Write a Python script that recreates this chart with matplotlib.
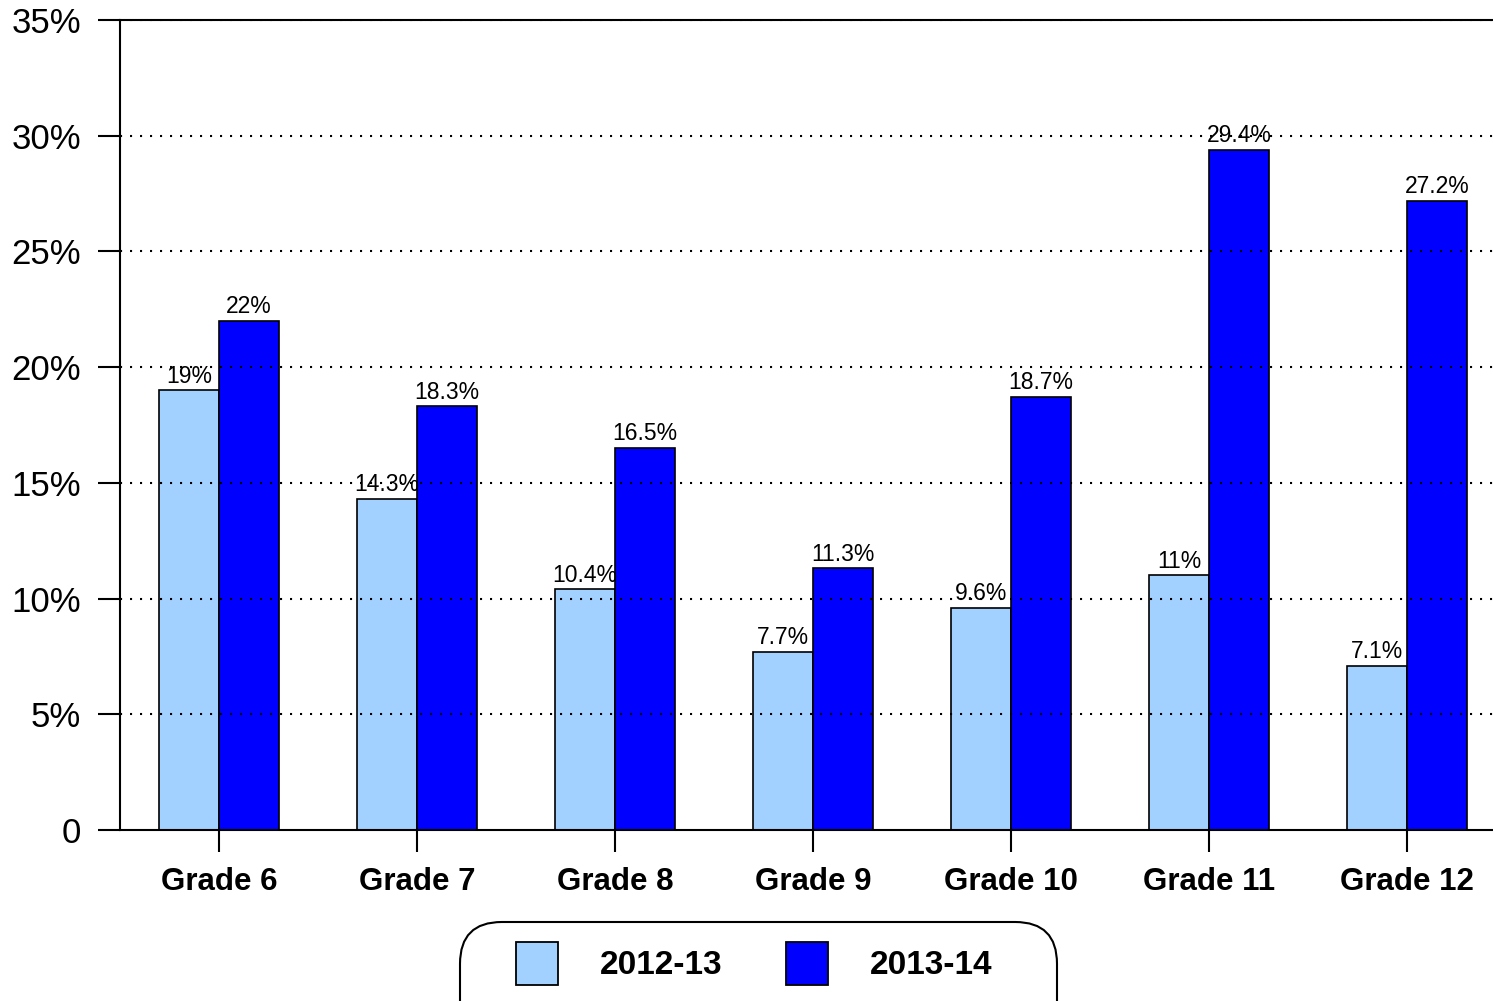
import numpy as np
import matplotlib.pyplot as plt
from matplotlib.patches import FancyBboxPatch, Rectangle

# -----------------------------
# Data
# -----------------------------
grades = ["Grade 6", "Grade 7", "Grade 8", "Grade 9", "Grade 10", "Grade 11", "Grade 12"]
vals_2012 = [19.0, 14.3, 10.4, 7.7, 9.6, 11.0, 7.1]
vals_2013 = [22.0, 18.3, 16.5, 11.3, 18.7, 29.4, 27.2]
labels_2012 = ["19%", "14.3%", "10.4%", "7.7%", "9.6%", "11%", "7.1%"]
labels_2013 = ["22%", "18.3%", "16.5%", "11.3%", "18.7%", "29.4%", "27.2%"]
series_names = ["2012-13", "2013-14"]
yticks = [0, 5, 10, 15, 20, 25, 30, 35]
ytick_labels = ["0", "5%", "10%", "15%", "20%", "25%", "30%", "35%"]

LIGHT = "#a3d1ff"
DARK = "#0000ff"

plt.rcParams["font.family"] = ["Liberation Sans", "DejaVu Sans"]

W, H = 1493, 1001
fig = plt.figure(figsize=(W / 100, H / 100), dpi=100)
# axes spans 120px -> past the right edge (group width 198px)
ax = fig.add_axes([120 / W, (H - 830) / H, (7 * 198) / W, 810 / H])

x = np.arange(len(grades))
bw = 60 / 198
b1 = ax.bar(x - bw, vals_2012, width=bw, align="edge", color=LIGHT,
            edgecolor="black", linewidth=1.2, zorder=2)
b2 = ax.bar(x, vals_2013, width=bw, align="edge", color=DARK,
            edgecolor="black", linewidth=1.2, zorder=2)

for bars, labs in [(b1, labels_2012), (b2, labels_2013)]:
    for r, lab in zip(bars, labs):
        ax.annotate(lab, (r.get_x() + r.get_width() / 2, r.get_height()),
                    xytext=(0, 2), textcoords="offset points",
                    ha="center", va="bottom", fontsize=16.5, zorder=4)

ax.set_xlim(-0.5, 6.5)
ax.set_ylim(0, 35)
ax.set_yticks(yticks)
ax.set_yticklabels(ytick_labels, fontsize=25)
ax.set_xticks(x)
ax.set_xticklabels(grades, fontsize=22.5, fontweight="bold")
ax.tick_params(axis="y", direction="out", length=16, width=1.5, pad=12)
ax.tick_params(axis="x", direction="out", length=16, width=1.5, pad=11)

for y in yticks[1:]:
    ax.axhline(y, color="black", linewidth=1.5, linestyle=(0, (1, 3.8)), zorder=3)

ax.spines["right"].set_visible(False)
for s in ["top", "left", "bottom"]:
    ax.spines[s].set_linewidth(1.5)

# -----------------------------
# Legend (rounded box at bottom)
# -----------------------------
box = FancyBboxPatch((460 / W, -0.05), (1057 - 460) / W, (H - 922) / H + 0.05,
                     boxstyle="round,pad=0,rounding_size=0.028",
                     transform=fig.transFigure, facecolor="white",
                     edgecolor="black", linewidth=1.5, mutation_aspect=W / H)
fig.patches.append(box)
for px, col, name, tx in [(516, LIGHT, series_names[0], 600),
                          (786, DARK, series_names[1], 870)]:
    fig.patches.append(Rectangle((px / W, (H - 985) / H), 42 / W, 43 / H,
                                 transform=fig.transFigure, facecolor=col,
                                 edgecolor="black", linewidth=1.3))
    fig.text(tx / W, (H - 965) / H, name, fontsize=24, fontweight="bold",
             ha="left", va="center")

fig.savefig("out.png", dpi=100)
